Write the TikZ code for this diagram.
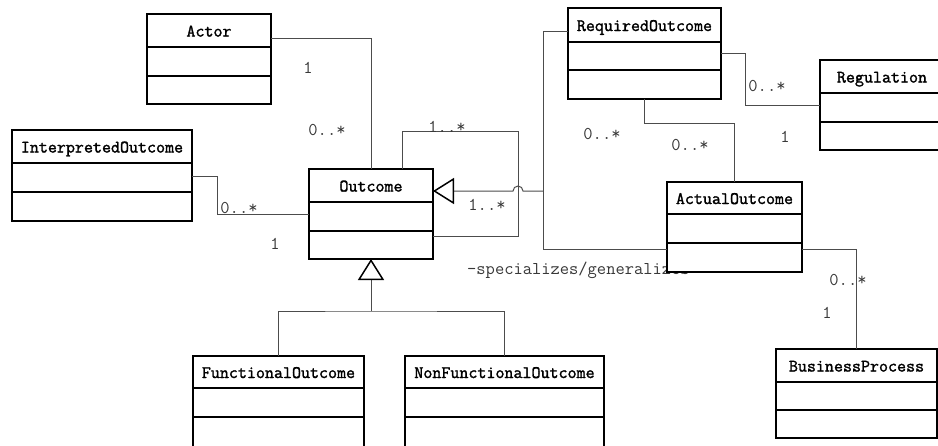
\documentclass[tikz,border=0pt]{standalone}
\usepackage{fontspec}
\usetikzlibrary{arrows.meta}

% monospaced faces for class names and for multiplicities
\newfontfamily\namefont[FakeBold=1.6]{Latin Modern Mono}
\newfontfamily\multfont{Latin Modern Mono}

\tikzset{
  classbox/.style={draw=black, line width=1.6pt, fill=white, inner sep=0pt, outer sep=0pt},
  divider/.style={draw=black, line width=1.6pt},
  classname/.style={font=\fontsize{17.5}{17.5}\selectfont\namefont, inner sep=0pt, anchor=base},
  assoc/.style={draw=black!70, line width=1pt},
  mult/.style={font=\fontsize{18}{18}\selectfont\multfont, text=black!78, inner sep=0pt,
    text height=11pt, text depth=0pt},
  gentip/.style={-{Triangle[open, length=21pt, width=26pt, line width=1.5pt, color=black]}}
}

% UML class: name, title, left, top, right, bottom, first divider, second divider
\newcommand{\umlclass}[8]{%
  \node[classbox, anchor=north west, minimum width={(#5-#3)*1pt}, minimum height={(#6-#4)*1pt}]
    (#1) at (#3,#4) {};
  \draw[divider] (#3,#7) -- (#5,#7) (#3,#8) -- (#5,#8);
  \node[classname] (#1-name) at ({(#3+#5)/2},{(#4+#7)/2+6}) {#2};
}

\begin{document}
\begin{tikzpicture}[x=1pt, y=-1pt]
\useasboundingbox (0,0) rectangle (938,445);
\fill[white] (0,0) rectangle (938,445);
\clip (0,0) rectangle (938,445);

% classes
\umlclass{actor}{Actor}{147}{14}{271}{104}{47}{76}
\umlclass{interp}{InterpretedOutcome}{12}{130}{192}{221}{163}{192}
\umlclass{outcome}{Outcome}{309}{169}{433}{259}{202}{231}
\umlclass{required}{RequiredOutcome}{568}{8}{721}{99}{42}{70}
\umlclass{regulation}{Regulation}{820}{60}{944}{150}{93}{122}
\umlclass{functional}{FunctionalOutcome}{193}{356}{364}{460}{388}{417}
\umlclass{nonfunctional}{NonFunctionalOutcome}{405}{356}{604}{460}{388}{417}
\umlclass{business}{BusinessProcess}{776}{349}{937}{438}{382}{410}

% role name, partly hidden under ActualOutcome
\node[mult, anchor=west] (rolename) at (467,269) {-specializes/generalizes};
\umlclass{actual}{ActualOutcome}{667}{182}{802}{272}{214}{243}

% associations
\draw[assoc] ([yshift=-24pt]actor.north east) -| (outcome.north);
\draw[assoc] ([yshift=-46pt]interp.north east) -- ++(25,0) |- (outcome.west);
\coordinate (loopcorner) at (518,131);
\draw[assoc] ([xshift=31pt]outcome.north) |- (loopcorner) |- ([yshift=-67pt]outcome.north east);
\draw[assoc] ([yshift=-45pt]required.north east) -- ++(24,0) |- ([yshift=-45pt]regulation.north west);
\draw[assoc] (required.south) -- ++(0,24) -| (actual.north);
\draw[assoc] ([yshift=-67pt]actual.north east) -| (business.north);

% generalization of RequiredOutcome and ActualOutcome
\coordinate (genbus) at (543,191);
\draw[assoc] ([yshift=-23pt]required.north west) -| (genbus);
\draw[assoc] ([yshift=-67pt]actual.north west) -| (genbus);
\draw[assoc, gentip] (genbus) -- ([xshift=5pt]loopcorner |- genbus)
  arc[start angle=0, end angle=-180, radius=5] -- (outcome.east |- genbus);

% generalization of FunctionalOutcome and NonFunctionalOutcome
\coordinate (genjoin) at ([yshift=-52pt]outcome.south);
\draw[assoc] (functional.north) |- (genjoin) -| (nonfunctional.north);
\draw[assoc, gentip] (genjoin) -- (outcome.south);

% multiplicities
\node[mult] (m1) at (308,68) {1};
\node[mult] (m2) at (327,130) {0..*};
\node[mult] (m3) at (239,208) {0..*};
\node[mult] (m4) at (275,244) {1};
\node[mult] (m5) at (447,127) {1..*};
\node[mult] (m6) at (487,205) {1..*};
\node[mult] (m7) at (602,134) {0..*};
\node[mult] (m8) at (690,145) {0..*};
\node[mult] (m9) at (767,86) {0..*};
\node[mult] (m10) at (785,137) {1};
\node[mult] (m11) at (848,280) {0..*};
\node[mult] (m12) at (827,313) {1};
\end{tikzpicture}
\end{document}
